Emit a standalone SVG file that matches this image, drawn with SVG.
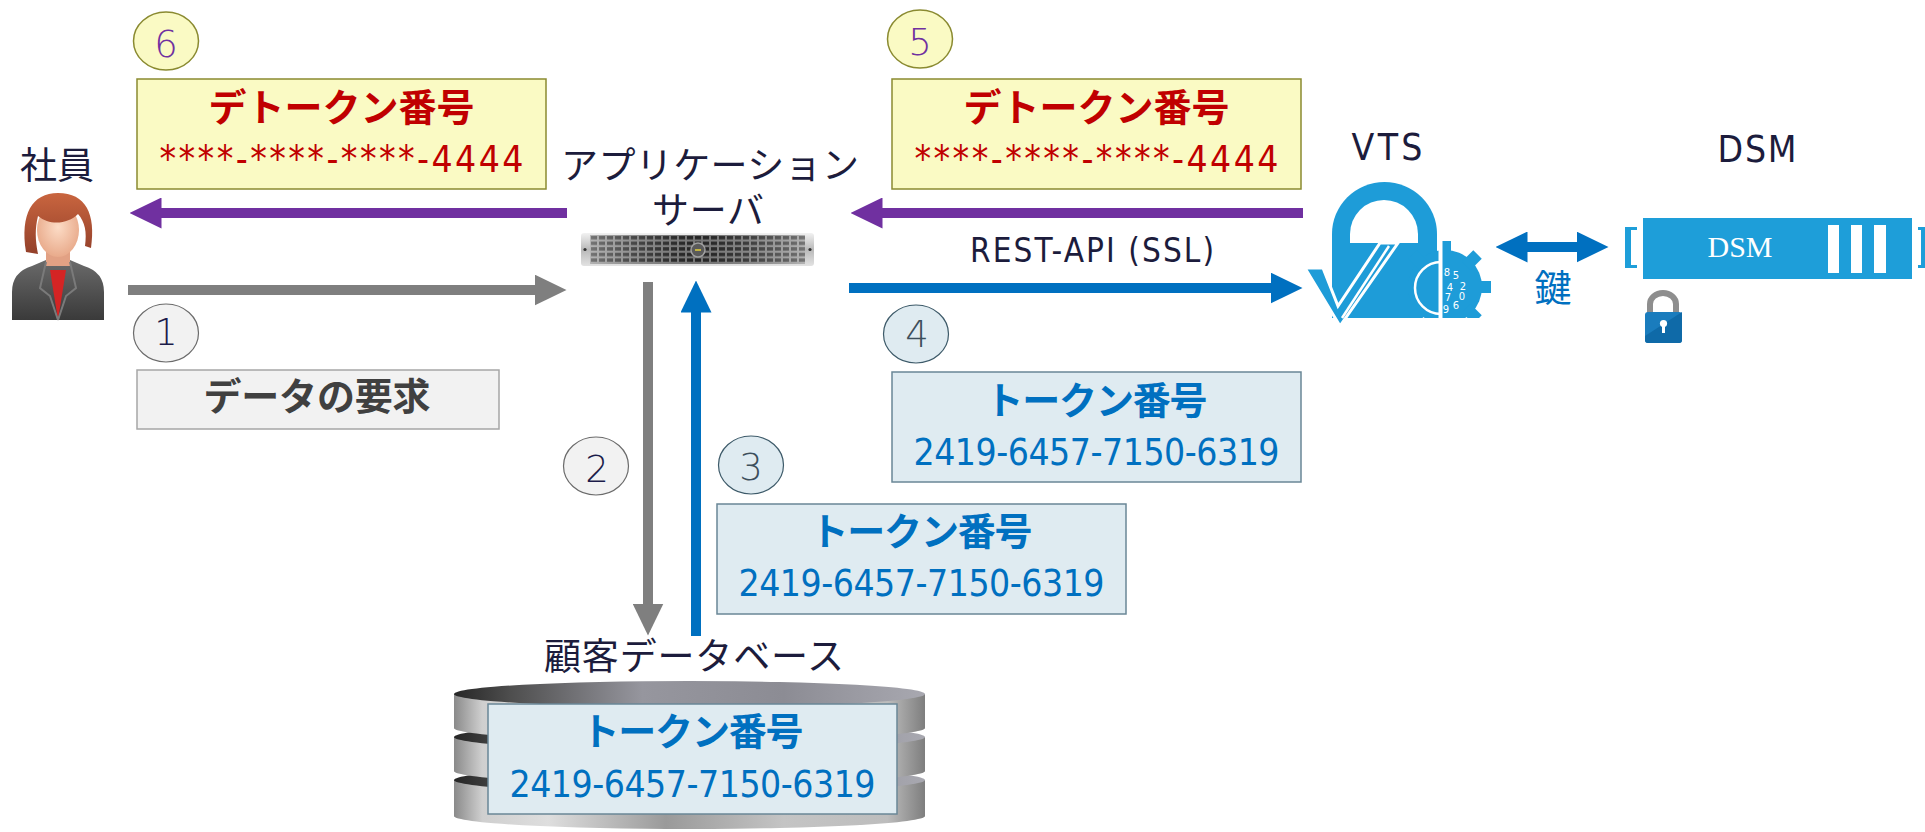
<svg xmlns="http://www.w3.org/2000/svg" width="1925" height="832" viewBox="0 0 1925 832">
  <style>
    .jp { font-family: "Noto Sans CJK JP", sans-serif; }
    .lat { font-family: "DejaVu Sans Condensed", "DejaVu Sans", sans-serif; font-stretch: semi-condensed; }
    .lbl { fill: #1c1c3c; font-size: 37px; text-anchor: middle; }
    .ttl { font-weight: 700; font-size: 38px; text-anchor: middle; }
    .num { font-size: 37px; text-anchor: middle; }
    .red { fill: #c00000; }
    .blu { fill: #0070c0; }
    .box-y { fill: #fafac4; stroke: #8a8a30; stroke-width: 1.5; }
    .box-g { fill: #f2f2f2; stroke: #a6a6a6; stroke-width: 1.5; }
    .box-b { fill: #dfebf1; stroke: #6a8796; stroke-width: 1.5; }
    .c-y { fill: #fafac4; stroke: #8a8a30; stroke-width: 1.5; }
    .c-g { fill: #f2f2f2; stroke: #6b6b6b; stroke-width: 1.2; }
    .c-b { fill: #dfebf1; stroke: #3d5a69; stroke-width: 1.2; }
    .step { font-family: "DejaVu Sans", sans-serif; font-weight: 200; font-size: 37px; text-anchor: middle; }
    .ln { stroke-width: 10; fill: none; }
    .ln-p { stroke: #7030a0; }
    .ln-g { stroke: #7f7f7f; }
    .ln-b { stroke: #0070c0; }
    .vts { fill: #1e9cd8; }
  </style>
  <defs>
    <marker id="ah-p" markerUnits="userSpaceOnUse" markerWidth="32" markerHeight="31" viewBox="0 0 32 31" refX="0.5" refY="15.5" orient="auto"><path d="M0,0 L32,15.5 L0,31 Z" fill="#7030a0"/></marker>
    <marker id="ah-g" markerUnits="userSpaceOnUse" markerWidth="32" markerHeight="31" viewBox="0 0 32 31" refX="0.5" refY="15.5" orient="auto"><path d="M0,0 L32,15.5 L0,31 Z" fill="#7f7f7f"/></marker>
    <marker id="ah-b" markerUnits="userSpaceOnUse" markerWidth="32" markerHeight="31" viewBox="0 0 32 31" refX="0.5" refY="15.5" orient="auto-start-reverse"><path d="M0,0 L32,15.5 L0,31 Z" fill="#0070c0"/></marker>

    <linearGradient id="jacket" x1="0" y1="0" x2="0" y2="1">
      <stop offset="0" stop-color="#6a6a6a"/><stop offset="1" stop-color="#3a3a3a"/>
    </linearGradient>
    <radialGradient id="skin" cx="0.5" cy="0.45" r="0.6">
      <stop offset="0" stop-color="#fcdcc6"/><stop offset="1" stop-color="#e7a686"/>
    </radialGradient>
    <linearGradient id="hair" x1="0" y1="0" x2="0" y2="1">
      <stop offset="0" stop-color="#c9653f"/><stop offset="1" stop-color="#93402a"/>
    </linearGradient>

    <linearGradient id="chassis" x1="0" y1="0" x2="0" y2="1">
      <stop offset="0" stop-color="#f2f2f2"/><stop offset="0.5" stop-color="#b9b9b9"/><stop offset="1" stop-color="#e2e2e2"/>
    </linearGradient>
    <pattern id="grille" patternUnits="userSpaceOnUse" x="590" y="235" width="8" height="5.6">
      <rect width="8" height="5.6" fill="#8c8c8c"/>
      <rect x="1" y="1" width="6" height="3.4" fill="#2a2a2a"/>
    </pattern>
    <linearGradient id="grilleShade" x1="0" y1="0" x2="1" y2="0">
      <stop offset="0" stop-color="#ffffff" stop-opacity="0.35"/>
      <stop offset="0.5" stop-color="#000000" stop-opacity="0.15"/>
      <stop offset="1" stop-color="#ffffff" stop-opacity="0.35"/>
    </linearGradient>

    <linearGradient id="discSide" x1="0" y1="0" x2="1" y2="0">
      <stop offset="0" stop-color="#8a8a8a"/>
      <stop offset="0.06" stop-color="#cfcfcf"/>
      <stop offset="0.2" stop-color="#dedede"/>
      <stop offset="0.45" stop-color="#9a9a9a"/>
      <stop offset="0.7" stop-color="#c4c4c4"/>
      <stop offset="0.92" stop-color="#bdbdbd"/>
      <stop offset="1" stop-color="#7e7e7e"/>
    </linearGradient>
    <linearGradient id="discTop" x1="0" y1="0" x2="1" y2="0">
      <stop offset="0" stop-color="#262626"/>
      <stop offset="0.12" stop-color="#4e4e4e"/>
      <stop offset="0.4" stop-color="#96969e"/>
      <stop offset="0.7" stop-color="#8c8c94"/>
      <stop offset="1" stop-color="#a8a8b0"/>
    </linearGradient>

    <clipPath id="gearClip"><rect x="1390" y="230" width="110" height="88"/></clipPath>
  </defs>

  <rect width="1925" height="832" fill="#ffffff"/>

  <!-- employee -->
  <g id="employee">
    <text x="57" y="179" class="jp lbl" textLength="74">社員</text>
    <path d="M12,320 L12,292 Q12,272 32,266 L46,260 L70,260 L84,266 Q104,272 104,292 L104,320 Z" fill="url(#jacket)"/>
    <rect x="46" y="246" width="24" height="20" fill="#e2a184"/>
    <polygon points="50,270 66,270 58,320" fill="#d42424"/>
    <path d="M46,262 L40,288 L50,296 L58,320 M70,262 L76,288 L66,296 L58,320" fill="none" stroke="#7a7a7a" stroke-width="2"/>
    <ellipse cx="58" cy="230" rx="21" ry="27" fill="url(#skin)"/>
    <path d="M26,252 C20,214 32,193 58,193 C86,193 96,214 91,248 L85,246 C87,232 85,222 78,214 C68,224 50,226 38,216 C35,228 35,240 38,254 Z" fill="url(#hair)"/>
  </g>

  <!-- step 6 -->
  <g id="step6">
    <ellipse cx="166" cy="41" rx="32.5" ry="29" class="c-y"/>
    <text x="166" y="57" class="step" fill="#7030a0">6</text>
    <rect x="137" y="79" width="409" height="110" class="box-y"/>
    <text x="341.5" y="121" class="jp ttl red" textLength="266">デトークン番号</text>
    <text x="341.5" y="172" class="lat num red" textLength="364">****-****-****-4444</text>
  </g>

  <!-- step 1 -->
  <g id="step1">
    <ellipse cx="166" cy="333" rx="32.5" ry="29" class="c-g"/>
    <text x="166" y="345" class="step" fill="#1c1c4a">1</text>
    <rect x="137" y="370" width="362" height="59" class="box-g"/>
    <text x="317" y="410" class="jp ttl" fill="#404040" textLength="227">データの要求</text>
  </g>

  <!-- application server -->
  <g id="app-server">
    <text x="710" y="179" class="jp lbl" textLength="298">アプリケーション</text>
    <text x="708" y="224" class="jp lbl" textLength="112">サーバ</text>
    <rect x="581" y="233" width="233" height="33" rx="3" fill="url(#chassis)"/>
    <rect x="590" y="235" width="215" height="29" fill="url(#grille)"/>
    <rect x="590" y="235" width="215" height="29" fill="url(#grilleShade)"/>
    <circle cx="698" cy="250" r="7" fill="#5a5a5a" stroke="#a0a0a0" stroke-width="1.5"/>
    <line x1="695" y1="250" x2="701" y2="250" stroke="#e6d23a" stroke-width="1.5"/>
    <circle cx="585" cy="249.5" r="1.6" fill="#333333"/>
    <circle cx="810" cy="249.5" r="1.6" fill="#333333"/>
  </g>

  <!-- step 2 -->
  <g id="step2">
    <ellipse cx="596" cy="466" rx="32.5" ry="29" class="c-g"/>
    <text x="597" y="482" class="step" fill="#1c1c4a">2</text>
  </g>

  <!-- step 3 -->
  <g id="step3">
    <ellipse cx="751" cy="465" rx="32.5" ry="29" class="c-b"/>
    <text x="751" y="480" class="step" fill="#3d4f5c">3</text>
    <rect x="717" y="504" width="409" height="110" class="box-b"/>
    <text x="921.5" y="545" class="jp ttl blu" textLength="222">トークン番号</text>
    <text x="921.5" y="596" class="lat num blu" textLength="366">2419-6457-7150-6319</text>
  </g>

  <!-- step 4 -->
  <g id="step4">
    <ellipse cx="916" cy="334" rx="32.5" ry="29" class="c-b"/>
    <text x="917" y="347" class="step" fill="#3d4f5c">4</text>
    <rect x="892" y="372" width="409" height="110" class="box-b"/>
    <text x="1096.5" y="414" class="jp ttl blu" textLength="222">トークン番号</text>
    <text x="1096.5" y="465" class="lat num blu" textLength="366">2419-6457-7150-6319</text>
  </g>

  <!-- step 5 -->
  <g id="step5">
    <ellipse cx="920" cy="39" rx="32.5" ry="29" class="c-y"/>
    <text x="920" y="55" class="step" fill="#7030a0">5</text>
    <rect x="892" y="79" width="409" height="110" class="box-y"/>
    <text x="1096.5" y="121" class="jp ttl red" textLength="266">デトークン番号</text>
    <text x="1096.5" y="172" class="lat num red" textLength="364">****-****-****-4444</text>
  </g>

  <!-- customer database -->
  <g id="customer-db">
    <text x="694" y="670" class="jp lbl" textLength="300">顧客データベース</text>
    <path d="M454,780 V816 A235.5,13 0 0 0 925,816 V780 Z" fill="url(#discSide)"/>
    <ellipse cx="689.5" cy="780" rx="235.5" ry="13" fill="url(#discTop)"/>
    <path d="M454,737 V771 A235.5,13 0 0 0 925,771 V737 Z" fill="url(#discSide)"/>
    <ellipse cx="689.5" cy="737" rx="235.5" ry="13" fill="url(#discTop)"/>
    <path d="M454,694 V728 A235.5,13 0 0 0 925,728 V694 Z" fill="url(#discSide)"/>
    <ellipse cx="689.5" cy="694" rx="235.5" ry="13" fill="url(#discTop)"/>
    <rect x="488" y="704" width="409" height="110" class="box-b"/>
    <text x="692.5" y="745" class="jp ttl blu" textLength="222">トークン番号</text>
    <text x="692.5" y="797" class="lat num blu" textLength="366">2419-6457-7150-6319</text>
  </g>

  <!-- VTS -->
  <g id="vts">
    <text x="1387" y="160" class="lat" font-size="37" fill="#1c1c3c" text-anchor="middle" textLength="71">VTS</text>
    <!-- padlock shackle and body -->
    <path class="vts" d="M1332,318 V234 A52.5,52 0 0 1 1437,234 V300 L1420,318 Z"/>
    <path d="M1350,243 V234 A34,34 0 0 1 1418,234 V243 Z" fill="#ffffff"/>
    <!-- check mark -->
    <polygon class="vts" points="1305,268 1323,268 1338,306 1380,243 1398,243 1340,326" stroke="#ffffff" stroke-width="3" stroke-linejoin="miter"/>
    <line x1="1342" y1="318" x2="1389" y2="246" stroke="#ffffff" stroke-width="2.5"/>
    <!-- gear with dial -->
    <g clip-path="url(#gearClip)" class="vts">
      <circle cx="1445" cy="287" r="37"/>
      <rect x="1439" y="241" width="12" height="16"/>
      <rect x="1439" y="241" width="12" height="16" transform="rotate(45 1445 287)"/>
      <rect x="1439" y="241" width="12" height="16" transform="rotate(90 1445 287)"/>
      <rect x="1439" y="241" width="12" height="16" transform="rotate(135 1445 287)"/>
      <rect x="1439" y="241" width="12" height="16" transform="rotate(225 1445 287)"/>
      <rect x="1439" y="241" width="12" height="16" transform="rotate(270 1445 287)"/>
      <rect x="1439" y="241" width="12" height="16" transform="rotate(315 1445 287)"/>
    </g>
    <path d="M1441,262 A26,26 0 0 0 1441,314" fill="none" stroke="#ffffff" stroke-width="2.5"/>
    <line x1="1440.5" y1="234" x2="1440.5" y2="322" stroke="#ffffff" stroke-width="4"/>
    <g font-family="DejaVu Sans, sans-serif" font-size="10" fill="#ffffff" text-anchor="middle">
      <text x="1447" y="276">8</text>
      <text x="1456" y="279">5</text>
      <text x="1463" y="290">2</text>
      <text x="1450" y="291">4</text>
      <text x="1462" y="300">0</text>
      <text x="1448" y="301">7</text>
      <text x="1456" y="309">6</text>
      <text x="1446" y="313">9</text>
    </g>
  </g>

  <!-- DSM -->
  <g id="dsm">
    <text x="1757" y="162" class="lat" font-size="37" fill="#1c1c3c" text-anchor="middle" textLength="79">DSM</text>
    <path d="M1625,227 H1637 V230 H1631 V265 H1637 V268 H1625 Z" fill="#1e9ed9"/>
    <rect x="1643" y="218" width="269" height="61" fill="#1e9ed9"/>
    <text x="1740" y="257" font-family="Liberation Serif, serif" font-size="30" fill="#ffffff" text-anchor="middle">DSM</text>
    <rect x="1828" y="225" width="11" height="48" fill="#ffffff"/>
    <rect x="1851" y="225" width="11" height="48" fill="#ffffff"/>
    <rect x="1874" y="225" width="12" height="48" fill="#ffffff"/>
    <path d="M1918,227 H1925 V268 H1918 V265 H1921 V230 H1918 Z" fill="#1e9ed9"/>
    <path d="M1650,314 V304 A13,11 0 0 1 1676,304 V314" fill="none" stroke="#8e8e8e" stroke-width="6"/>
    <rect x="1645" y="312" width="37" height="31" rx="3" fill="#1a7cbd"/>
    <path d="M1645,336 L1682,312 L1682,340 Q1682,343 1679,343 L1648,343 Q1645,343 1645,340 Z" fill="#0f6aa8"/>
    <circle cx="1663.5" cy="323.5" r="3.6" fill="#ffffff"/>
    <rect x="1662" y="324" width="3" height="9" fill="#ffffff"/>
  </g>

  <!-- connectors -->
  <g id="connectors">
    <line class="ln ln-p" x1="567" y1="213" x2="161" y2="213" marker-end="url(#ah-p)"/>
    <line class="ln ln-p" x1="1303" y1="213" x2="882" y2="213" marker-end="url(#ah-p)"/>
    <line class="ln ln-g" x1="128" y1="290" x2="535" y2="290" marker-end="url(#ah-g)"/>
    <line class="ln ln-g" x1="648" y1="282" x2="648" y2="604" marker-end="url(#ah-g)"/>
    <line class="ln ln-b" x1="696" y1="636" x2="696" y2="312" marker-end="url(#ah-b)"/>
    <line class="ln ln-b" x1="849" y1="288" x2="1271" y2="288" marker-end="url(#ah-b)"/>
    <text x="1092" y="262" class="lat" font-size="33" fill="#1c1c3c" text-anchor="middle" textLength="244">REST-API (SSL)</text>
    <line class="ln ln-b" x1="1527" y1="247" x2="1577" y2="247" marker-start="url(#ah-b)" marker-end="url(#ah-b)"/>
    <text x="1553" y="302" class="jp" font-size="37" fill="#0070c0" text-anchor="middle">鍵</text>
  </g>
</svg>
